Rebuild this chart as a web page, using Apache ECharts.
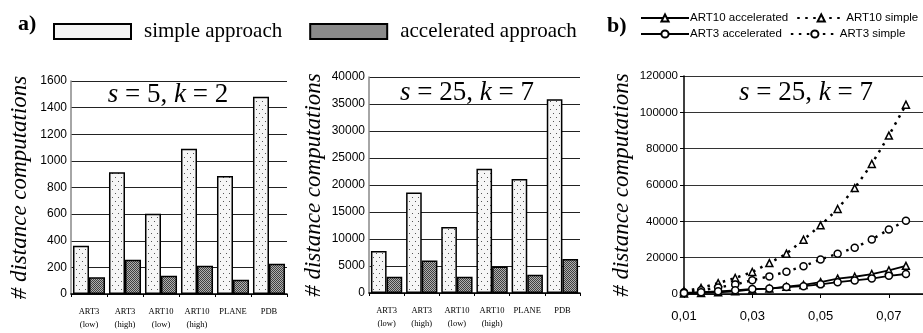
<!DOCTYPE html>
<html><head><meta charset="utf-8">
<script src="https://cdn.jsdelivr.net/npm/echarts@6/dist/echarts.min.js"></script>
<style>html,body{margin:0;padding:0;background:#fff}#c{width:923px;height:333px}</style>
</head><body><div id="c"></div>
<script>
// ---- data ----
const barCategories = ['ART3\n(low)', 'ART3\n(high)', 'ART10\n(low)', 'ART10\n(high)', 'PLANE', 'PDB'];
const simpleS5 = [362, 915, 602, 1092, 886, 1482];
const accelS5 = [125, 257, 138, 212, 107, 228];
const simpleS25 = [7800, 18600, 12200, 23000, 21100, 35900];
const accelS25 = [3000, 6000, 3000, 4900, 3400, 6300];
const yTicks5 = [0, 1600, 200];
const yTicks25 = [0, 40000, 5000];

const xCategories = ['0,01', '0,015', '0,02', '0,025', '0,03', '0,035', '0,04', '0,045', '0,05', '0,055', '0,06', '0,065', '0,07', '0,075', '0,08'];
const art10Accel = [300, 600, 900, 1500, 2500, 3000, 4000, 5000, 6500, 8500, 9500, 11000, 13000, 15500];
const art10Simple = [1500, 3300, 6000, 8800, 12100, 17000, 22200, 29900, 37800, 46800, 58300, 71600, 87200, 104200];
const art3Accel = [600, 1000, 1500, 2000, 2800, 3000, 3800, 4300, 5300, 6500, 7500, 8500, 10000, 11000];
const art3Simple = [1000, 2000, 3600, 5200, 7600, 9700, 12300, 15300, 19000, 22200, 25500, 30000, 35500, 40300];

const SERIF = '"Liberation Serif", "Times New Roman", serif';
const SANS = '"Liberation Sans", Arial, sans-serif';

function makePattern(w, h, bg, fg, pts) {
  const c = document.createElement('canvas');
  c.width = w; c.height = h;
  const x = c.getContext('2d');
  x.fillStyle = bg; x.fillRect(0, 0, w, h);
  x.fillStyle = fg;
  pts.forEach(p => x.fillRect(p[0], p[1], 1, 1));
  return { image: c, repeat: 'repeat' };
}
const dotFill = makePattern(6, 8, '#f6f6f6', '#555', [[1, 1], [4, 5]]);
const checkFill = makePattern(2, 2, '#b0b0b0', '#404040', [[0, 0], [1, 1]]);

const chart = echarts.init(document.getElementById('c'), null, { renderer: 'canvas' });
const plain = v => String(v);

function barX(gi) {
  return {
    type: 'category', gridIndex: gi, data: barCategories,
    axisLine: { lineStyle: { color: '#000', width: 1.5 } },
    axisTick: { show: true, length: 3, lineStyle: { color: '#000' } },
    axisLabel: { fontFamily: SERIF, fontSize: 8.5, color: '#000', lineHeight: 13, margin: 11, interval: 0 }
  };
}
function barY(gi, t, gap) {
  return {
    type: 'value', gridIndex: gi, min: t[0], max: t[1], interval: t[2],
    name: '# distance computations', nameLocation: 'middle', nameGap: gap,
    nameTextStyle: { fontFamily: SERIF, fontStyle: 'italic', fontSize: 23, color: '#000' },
    axisLine: { show: true, lineStyle: { color: '#888', width: 1.5 } },
    axisTick: { show: false },
    splitLine: { lineStyle: { color: '#222', width: 1 } },
    axisLabel: { fontFamily: SANS, fontSize: 12, color: '#000', margin: 4, formatter: plain }
  };
}
const barCommon = { type: 'bar', barGap: '0%', barCategoryGap: '11%' };
const simpleStyle = { color: dotFill, borderColor: '#000', borderWidth: 1.5 };
const accelStyle = { color: checkFill, borderColor: '#000', borderWidth: 1.5 };
const lineSym = { color: '#fff', borderColor: '#000', borderWidth: 1.5 };

function titleText(x, y, txt) {
  return {
    type: 'text', x: x, y: y,
    style: {
      text: txt, align: 'center', verticalAlign: 'middle',
      fontFamily: SERIF, fontSize: 27, fill: '#000',
      rich: { i: { fontFamily: SERIF, fontSize: 27, fontStyle: 'italic' }, n: { fontFamily: SERIF, fontSize: 27 } }
    }
  };
}
const lineLegendText = { fontFamily: SANS, fontSize: 11.5, color: '#000', padding: [0, 0, 0, -4] };

chart.setOption({
  animation: false,
  backgroundColor: '#fff',
  grid: [
    { left: 71, top: 81, width: 216, height: 213 },
    { left: 369, top: 77, width: 211, height: 216 },
    { left: 684, top: 76, width: 240, height: 218 }
  ],
  legend: [
    {
      left: 53, top: 21, padding: 0, itemWidth: 77, itemHeight: 15, itemGap: 27, icon: 'rect',
      textStyle: { fontFamily: SERIF, fontSize: 21, color: '#000', padding: [0, 0, 0, 8] },
      data: [
        { name: 'simple approach', itemStyle: { color: '#f4f4f4', borderColor: '#000', borderWidth: 2 } },
        { name: 'accelerated approach', itemStyle: { color: '#8a8a8a', borderColor: '#000', borderWidth: 2 } }
      ]
    },
    {
      left: 640, top: 12, width: 300, padding: 0, itemWidth: 48, itemHeight: 9, itemGap: 8,
      textStyle: lineLegendText,
      data: ['ART10 accelerated', 'ART10 simple']
    },
    {
      left: 640, top: 28, width: 300, padding: 0, itemWidth: 48, itemHeight: 9, itemGap: 8,
      textStyle: lineLegendText,
      data: ['ART3 accelerated', 'ART3 simple']
    }
  ],
  xAxis: [
    barX(0), barX(1),
    {
      type: 'category', gridIndex: 2, data: xCategories, boundaryGap: false,
      axisLine: { lineStyle: { color: '#000', width: 1.5 } },
      axisTick: { show: true, interval: 3, length: 4, lineStyle: { color: '#000' } },
      axisLabel: { interval: 3, fontFamily: SANS, fontSize: 13, color: '#000', margin: 16 },
      splitLine: { show: false }
    }
  ],
  yAxis: [
    barY(0, yTicks5, 40), barY(1, yTicks25, 44),
    {
      type: 'value', gridIndex: 2, min: 0, max: 120000, interval: 20000,
      name: '# distance computations', nameLocation: 'middle', nameGap: 51,
      nameTextStyle: { fontFamily: SERIF, fontStyle: 'italic', fontSize: 23, color: '#000' },
      axisLine: { show: true, lineStyle: { color: '#000', width: 1.5 } },
      axisTick: { show: true, length: 4, lineStyle: { color: '#000' } },
      splitLine: { lineStyle: { color: '#333', width: 1 } },
      axisLabel: { fontFamily: SANS, fontSize: 11.5, color: '#000', margin: 6, formatter: plain }
    }
  ],
  series: [
    Object.assign({}, barCommon, { name: 'simple approach', xAxisIndex: 0, yAxisIndex: 0, data: simpleS5, itemStyle: simpleStyle }),
    Object.assign({}, barCommon, { name: 'accelerated approach', xAxisIndex: 0, yAxisIndex: 0, data: accelS5, itemStyle: accelStyle }),
    Object.assign({}, barCommon, { name: 'simple approach', xAxisIndex: 1, yAxisIndex: 1, data: simpleS25, itemStyle: simpleStyle }),
    Object.assign({}, barCommon, { name: 'accelerated approach', xAxisIndex: 1, yAxisIndex: 1, data: accelS25, itemStyle: accelStyle }),
    { name: 'ART10 accelerated', type: 'line', xAxisIndex: 2, yAxisIndex: 2, data: art10Accel,
      symbol: 'triangle', symbolSize: 7, showAllSymbol: true, itemStyle: lineSym,
      lineStyle: { color: '#000', width: 1.8, type: 'solid' }, z: 3 },
    { name: 'ART10 simple', type: 'line', xAxisIndex: 2, yAxisIndex: 2, data: art10Simple,
      symbol: 'triangle', symbolSize: 7, showAllSymbol: true, itemStyle: lineSym,
      lineStyle: { color: '#000', width: 2.5, type: [2.5, 5.5] }, z: 2 },
    { name: 'ART3 accelerated', type: 'line', xAxisIndex: 2, yAxisIndex: 2, data: art3Accel,
      symbol: 'circle', symbolSize: 7, showAllSymbol: true, itemStyle: lineSym,
      lineStyle: { color: '#000', width: 1.8, type: 'solid' }, z: 3 },
    { name: 'ART3 simple', type: 'line', xAxisIndex: 2, yAxisIndex: 2, data: art3Simple,
      symbol: 'circle', symbolSize: 7, showAllSymbol: true, itemStyle: lineSym,
      lineStyle: { color: '#000', width: 2.5, type: [2.5, 5.5] }, z: 2 }
  ],
  graphic: [
    { type: 'text', x: 18, y: 24, style: { text: 'a)', fontFamily: SERIF, fontSize: 22, fontWeight: 'bold', fill: '#000', verticalAlign: 'middle' } },
    { type: 'text', x: 607, y: 26, style: { text: 'b)', fontFamily: SERIF, fontSize: 22, fontWeight: 'bold', fill: '#000', verticalAlign: 'middle' } },
    titleText(168, 95, '{i|s}{n| = 5, }{i|k}{n| = 2}'),
    titleText(467, 93, '{i|s}{n| = 25, }{i|k}{n| = 7}'),
    titleText(806, 93, '{i|s}{n| = 25, }{i|k}{n| = 7}')
  ]
});
</script></body></html>
